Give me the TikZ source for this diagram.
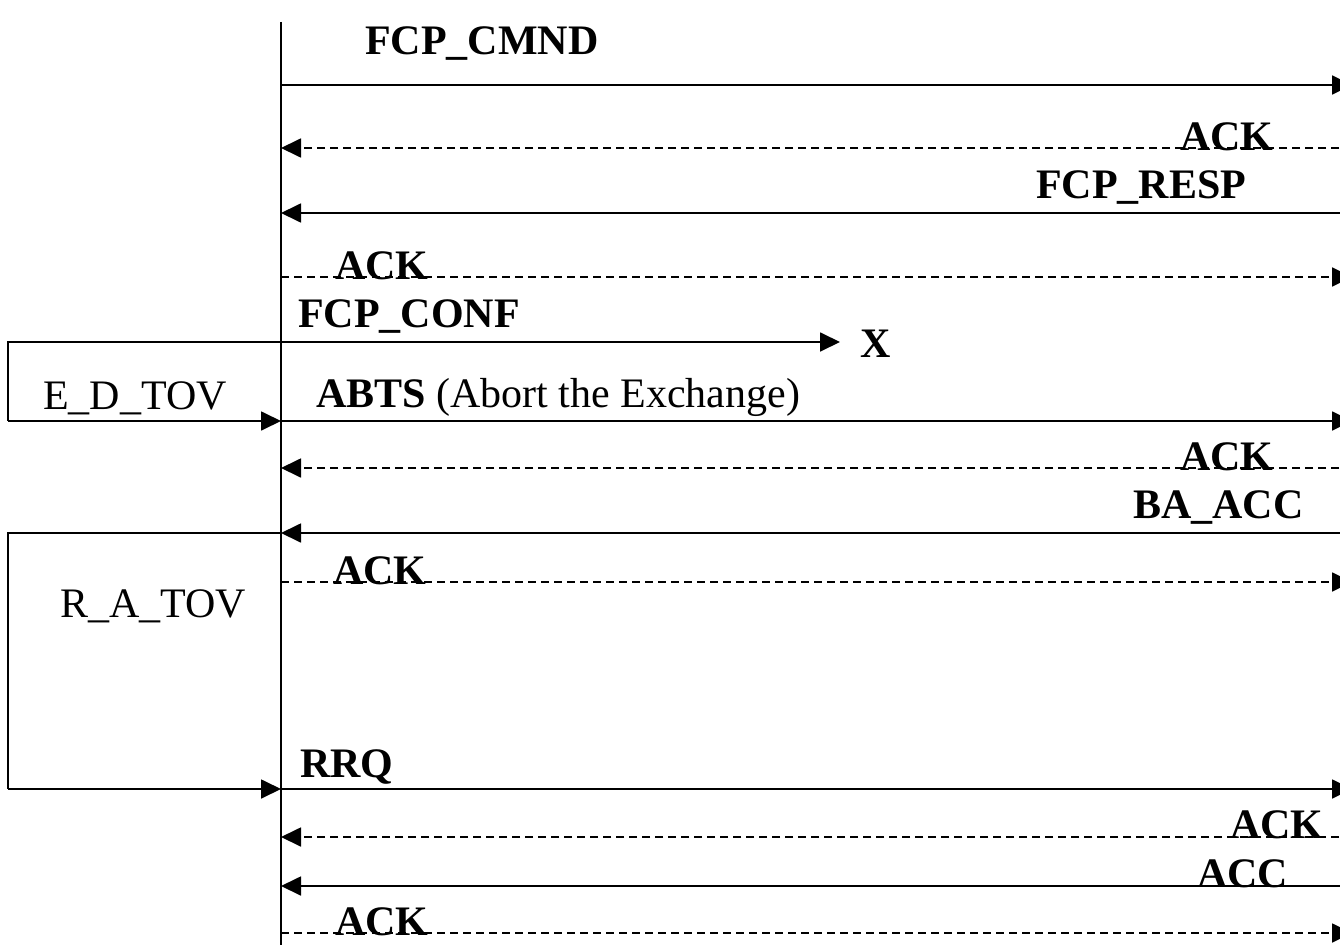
\documentclass[tikz,border=0pt]{standalone}
\usepackage{fontspec}
\setmainfont{Liberation Serif}
\usetikzlibrary{arrows.meta}
\begin{document}
\begin{tikzpicture}[x=1pt,y=-1pt,
  msg/.style={line width=1.8pt,-{Triangle[length=20pt,width=19pt]}},
  ackmsg/.style={msg,dash pattern=on 8pt off 5pt},
  lbl/.style={anchor=base west,inner sep=0pt,font=\fontsize{42}{50}\selectfont\bfseries},
  tlbl/.style={anchor=base west,inner sep=0pt,font=\fontsize{42}{50}\selectfont},
  timer/.style={line width=1.8pt}]
\useasboundingbox (0,0) rectangle (1340,947);

% lifeline of the originator
\coordinate (top) at (281,22);
\coordinate (bot) at (281,945);
\draw[line width=1.8pt] (top) -- (bot);

% far ends of the exchanges (beyond the right margin)
\foreach \n/\y in {1/85,2/148,3/213,4/277,6/421,7/468,8/533,9/582,10/789,11/837,12/886,13/933}{
  \coordinate (L\n) at (281,\y);
  \coordinate (R\n) at (1352,\y);
}
\coordinate (L5) at (281,342);
\coordinate (X5) at (840,342);

% frames and their labels
\draw[msg]    (L1) -- (R1);
\node[lbl] (cmnd) at (365,55) {FCP\_CMND};

\draw[ackmsg] (R2) -- (L2);
\node[lbl] (ack2) at (1180,150) {ACK};

\draw[msg]    (R3) -- (L3);
\node[lbl] (resp) at (1036,198) {FCP\_RESP};

\draw[ackmsg] (L4) -- (R4);
\node[lbl] (ack4) at (335,279) {ACK};

\draw[msg]    (L5) -- (X5);
\node[lbl] (conf) at (298,327) {FCP\_CONF};
\node[lbl] (lost) at (860,357) {X};

\draw[msg]    (L6) -- (R6);
\node[lbl] (abts) at (316,407) {ABTS \normalfont(Abort the Exchange)};

\draw[ackmsg] (R7) -- (L7);
\node[lbl] (ack7) at (1180,470) {ACK};

\draw[msg]    (R8) -- (L8);
\node[lbl] (baacc) at (1133,518) {BA\_ACC};

\draw[ackmsg] (L9) -- (R9);
\node[lbl] (ack9) at (333,584) {ACK};

\draw[msg]    (L10) -- (R10);
\node[lbl] (rrq) at (300,777) {RRQ};

\draw[ackmsg] (R11) -- (L11);
\node[lbl] (ack11) at (1230,838) {ACK};

\draw[msg]    (R12) -- (L12);
\node[lbl] (acc) at (1197,887) {ACC};

\draw[ackmsg] (L13) -- (R13);
\node[lbl] (ack13) at (335,935) {ACK};

% E_D_TOV timer
\coordinate (ed1) at (8,342);
\coordinate (ed2) at (8,421);
\draw[timer] (L5) -- (ed1) -- (ed2);
\draw[msg] (ed2) -- (L6);
\node[tlbl] (edtov) at (43,409) {E\_D\_TOV};

% R_A_TOV timer
\coordinate (ra1) at (8,533);
\coordinate (ra2) at (8,789);
\draw[timer] (L8) -- (ra1) -- (ra2);
\draw[msg] (ra2) -- (L10);
\node[tlbl] (ratov) at (60,617) {R\_A\_TOV};
\end{tikzpicture}
\end{document}
